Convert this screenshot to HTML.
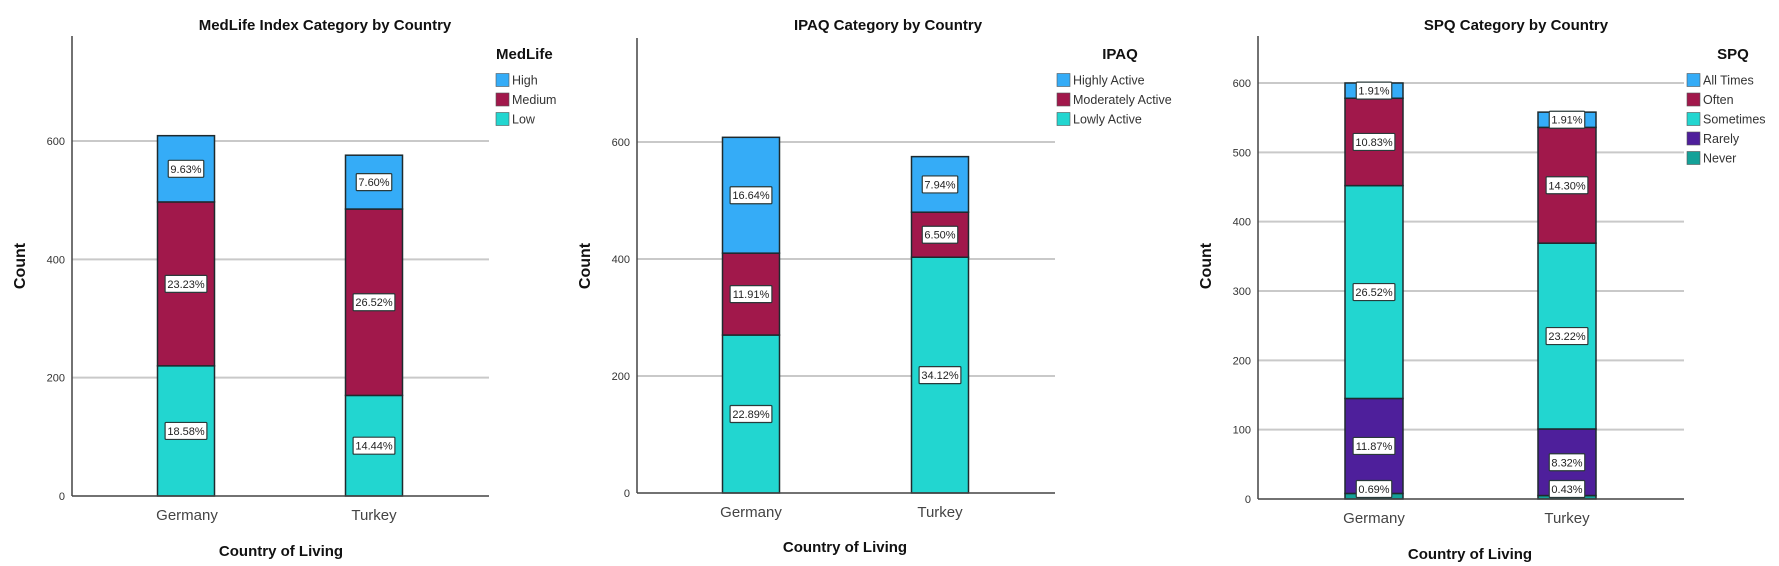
<!DOCTYPE html>
<html><head><meta charset="utf-8"><style>
html,body{margin:0;padding:0;background:#fff;}
svg{display:block;font-family:"Liberation Sans",Arial,sans-serif;}
</style></head><body>
<svg id="svg" width="1779" height="566" viewBox="0 0 1779 566" xmlns="http://www.w3.org/2000/svg"></svg>
<script>
const categories = ["Germany","Turkey"];
// MedLife (bottom to top): Low, Medium, High
const medSeries = ["Low","Medium","High"];
const medLow = [220,170];
const medMedium = [277,315];
const medHigh = [112,91];
const medLabels = [["18.58%","14.44%"],["23.23%","26.52%"],["9.63%","7.60%"]];
const medTicks = [0,200,400,600];
// IPAQ
const ipaqSeries = ["Lowly Active","Moderately Active","Highly Active"];
const ipaqLow = [270,403];
const ipaqModerate = [140,77];
const ipaqHigh = [198,95];
const ipaqLabels = [["22.89%","34.12%"],["11.91%","6.50%"],["16.64%","7.94%"]];
const ipaqTicks = [0,200,400,600];
// SPQ
const spqSeries = ["Never","Rarely","Sometimes","Often","All Times"];
const spqNever = [8,5];
const spqRarely = [137,96];
const spqSometimes = [307,268];
const spqOften = [126,167];
const spqAllTimes = [22,22];
const spqLabels = [["0.69%","0.43%"],["11.87%","8.32%"],["26.52%","23.22%"],["10.83%","14.30%"],["1.91%","1.91%"]];
const spqTicks = [0,100,200,300,400,500,600];

const C = {blue:"#35acf7",maroon:"#a1184b",cyan:"#22d6d0",purple:"#4e1f9b",teal:"#14a198"};
const NS="http://www.w3.org/2000/svg";
const svg=document.getElementById('svg');
function el(tag,attrs,parent,text){const e=document.createElementNS(NS,tag);for(const k in attrs)e.setAttribute(k,attrs[k]);if(text!==undefined)e.textContent=text;(parent||svg).appendChild(e);return e;}

function chart(cfg){
  const g=el('g',{});
  
  
  const y=v=>cfg.y0-(v-0)*(cfg.y0-cfg.yTop)/cfg.vTop;
  // gridlines + ticks
  cfg.ticks.forEach(t=>{
    if(t>0){const l=el('line',{x1:cfg.ax,x2:cfg.right,y1:y(t),y2:y(t),stroke:'#c9c9c9','stroke-width':2},g);
      }
    const tx=el('text',{x:cfg.ax-7,y:y(t)+4,'text-anchor':'end','font-size':11,fill:'#333'},g,t);
    
  });
  // bars
  categories.forEach((c,i)=>{
    let base=0;
    const cx=cfg.cx[i];
    const segs=[];
    cfg.series.forEach((s,j)=>{
      const v=cfg.values[j][i];
      const r=el('rect',{x:cx-cfg.bw/2,y:y(base+v),width:cfg.bw,height:y(base)-y(base+v),fill:cfg.colors[j],stroke:'#1e2a2e','stroke-width':1.5},g);
      
      
      segs.push([base,v]);
      base+=v;
    });
    cfg.series.forEach((s,j)=>{
      const [b,v]=segs[j];
      let ly=y(b+v/2);
      if(ly>cfg.y0-10)ly=cfg.y0-10;
      const txt=cfg.labels[j][i];
      const w=txt.length*6.3+4;
      const r=el('rect',{x:cx-w/2,y:ly-8.5,width:w,height:17,fill:'#fff',stroke:'#2a3a3a','stroke-width':1.2,rx:1},g);
      
      const t=el('text',{x:cx,y:ly+4,'text-anchor':'middle','font-size':11,fill:'#222'},g,txt);
      
    });
    const xl=el('text',{x:cfg.xl[i],y:cfg.y0+24,'text-anchor':'middle','font-size':15,fill:'#444'},g,c);
    
  });
  // axes
  const ya=el('line',{x1:cfg.ax,x2:cfg.ax,y1:cfg.axTop,y2:cfg.y0,stroke:'#444','stroke-width':1.5},g);
  
  const xa=el('line',{x1:cfg.ax,x2:cfg.right,y1:cfg.y0,y2:cfg.y0,stroke:'#444','stroke-width':1.5},g);
  
  const ti=el('text',{x:cfg.titleX,y:30,'text-anchor':'middle','font-size':15,'font-weight':'bold',fill:'#111'},g,cfg.title);
  
  const xt=el('text',{x:cfg.xTitleX,y:cfg.xTitleY,'text-anchor':'middle','font-size':15,'font-weight':'bold',fill:'#111'},g,'Country of Living');
  
  const yt=el('text',{x:0,y:0,transform:'translate('+(cfg.countX+6)+',266) rotate(-90)','text-anchor':'middle','font-size':16,'font-weight':'bold',fill:'#111'},g,'Count');
  
  // legend
  const lg=el('g',{},g);
  
  const lt=el('text',{x:cfg.legTitleX,y:59,'text-anchor':cfg.legAnchor,'font-size':15,'font-weight':'bold',fill:'#111'},lg,cfg.legTitle);
  
  const order=cfg.series.map((s,j)=>j).reverse();
  order.forEach((j,k)=>{
    const yy=80+k*19.5;
    const sw=el('rect',{x:cfg.legX,y:yy-6.5,width:13,height:13,fill:cfg.colors[j],stroke:'#555','stroke-width':0.6},lg);
    
    const tx=el('text',{x:cfg.legX+16,y:yy+4.5,'font-size':12.5,fill:'#333'},lg,cfg.series[j]);
    
  });
}

chart({name:'medlife-chart',title:'MedLife Index Category by Country',titleX:325,ax:72,axTop:36,right:489,y0:496,yTop:141,vTop:600,
  ticks:medTicks,cx:[186,374],bw:57,xl:[187,374],series:medSeries,values:[medLow,medMedium,medHigh],labels:medLabels,
  colors:[C.cyan,C.maroon,C.blue],xTitleX:281,xTitleY:556,countX:19,legTitle:'MedLife',legTitleX:496,legAnchor:'start',legX:496});
chart({name:'ipaq-chart',title:'IPAQ Category by Country',titleX:888,ax:637,axTop:38,right:1055,y0:493,yTop:142,vTop:600,
  ticks:ipaqTicks,cx:[751,940],bw:57,xl:[751,940],series:ipaqSeries,values:[ipaqLow,ipaqModerate,ipaqHigh],labels:ipaqLabels,
  colors:[C.cyan,C.maroon,C.blue],xTitleX:845,xTitleY:552,countX:584,legTitle:'IPAQ',legTitleX:1120,legAnchor:'middle',legX:1057});
chart({name:'spq-chart',title:'SPQ Category by Country',titleX:1516,ax:1258,axTop:36,right:1684,y0:499,yTop:83,vTop:600,
  ticks:spqTicks,cx:[1374,1567],bw:58,xl:[1374,1567],series:spqSeries,values:[spqNever,spqRarely,spqSometimes,spqOften,spqAllTimes],labels:spqLabels,
  colors:[C.teal,C.purple,C.cyan,C.maroon,C.blue],xTitleX:1470,xTitleY:559,countX:1205,legTitle:'SPQ',legTitleX:1733,legAnchor:'middle',legX:1687});
</script>
</body></html>
